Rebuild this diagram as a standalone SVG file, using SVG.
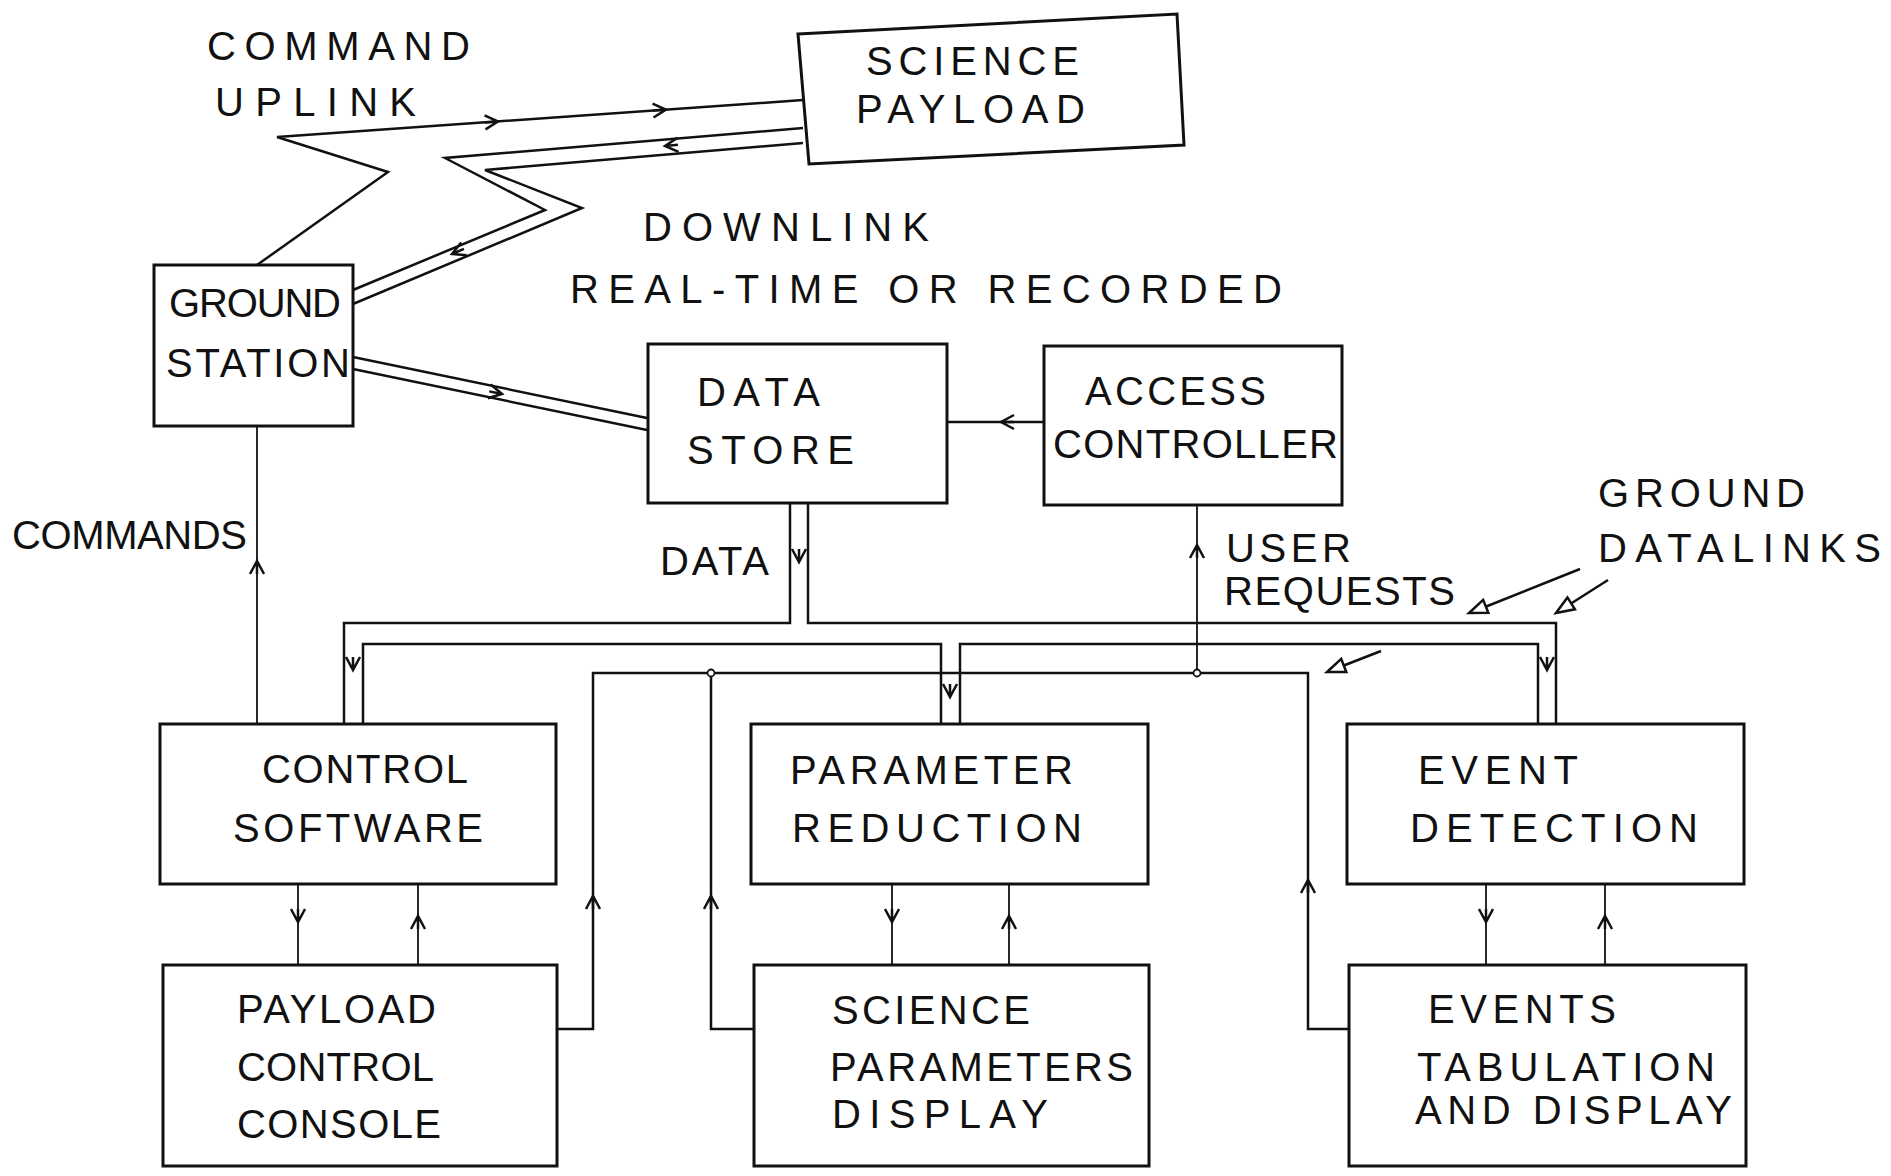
<svg xmlns="http://www.w3.org/2000/svg" xmlns:xlink="http://www.w3.org/1999/xlink" width="1891" height="1176" viewBox="0 0 1891 1176">
<style>
  .box{fill:none;stroke:#111;stroke-width:3}
  .ln{fill:none;stroke:#111;stroke-width:2.5;stroke-linejoin:miter}
  .thin{fill:none;stroke:#111;stroke-width:1.8}
  .t{font-family:"Liberation Sans",Arial,sans-serif;font-size:40px;fill:#111}
  .ah{fill:none;stroke:#111;stroke-width:2.5;stroke-linejoin:miter}
  .tri{fill:#fff;stroke:#111;stroke-width:2.5}
</style>
<defs>
  <path id="ah" d="M-13,-7 L0,0 L-13,7 M-13,0 L0,0"/>
  <path id="tri" d="M0,0 L-18,-7 L-18,7 Z"/>
</defs>
<rect width="1891" height="1176" fill="#fff"/>

<g id="connectors">
  <!-- command uplink -->
  <polyline class="ln" points="257,265 388,172 277,137 803,100"/>
  <use href="#ah" class="ah" transform="translate(498,121.5) rotate(-4)"/>
  <use href="#ah" class="ah" transform="translate(666,109.6) rotate(-4)"/>
  <!-- downlink pipe -->
  <polyline class="ln" points="803,128 445,158 545,210 353,290"/>
  <polyline class="ln" points="803,143 485,170 582,208 353,304"/>
  <use href="#ah" class="ah" transform="translate(665,146) rotate(175)"/>
  <use href="#ah" class="ah" transform="translate(452,254) rotate(157)"/>
  <!-- ground station to data store pipe -->
  <line class="ln" x1="353" y1="357" x2="647" y2="418"/>
  <line class="ln" x1="353" y1="369" x2="647" y2="430"/>
  <use href="#ah" class="ah" transform="translate(502,394) rotate(11.7)"/>
  <!-- access controller to data store -->
  <line class="ln" x1="947" y1="422" x2="1044" y2="422"/>
  <use href="#ah" class="ah" transform="translate(1001,422) rotate(180)"/>
  <!-- data distribution pipe -->
  <polyline class="ln" points="790,503 790,623 344,623 344,724"/>
  <polyline class="ln" points="808,503 808,623 1556,623 1556,724"/>
  <polyline class="ln" points="363,724 363,644 941,644 941,724"/>
  <polyline class="ln" points="1538,724 1538,644 960,644 960,724"/>
  <use href="#ah" class="ah" transform="translate(799,562) rotate(90)"/>
  <use href="#ah" class="ah" transform="translate(353,670) rotate(90)"/>
  <use href="#ah" class="ah" transform="translate(950,697) rotate(90)"/>
  <use href="#ah" class="ah" transform="translate(1547,670) rotate(90)"/>
  <!-- commands -->
  <line class="thin" x1="257" y1="426" x2="257" y2="724"/>
  <use href="#ah" class="ah" transform="translate(257,561) rotate(-90)"/>
  <!-- user requests bus -->
  <polyline class="ln" points="557,1029 593,1029 593,673 1308,673 1308,1029 1349,1029"/>
  <polyline class="ln" points="754,1029 711,1029 711,673"/>
  <line class="thin" x1="1197" y1="505" x2="1197" y2="673"/>
  <circle cx="711" cy="673" r="3.5" fill="#fff" stroke="#111" stroke-width="1.8"/>
  <circle cx="1197" cy="673" r="3.5" fill="#fff" stroke="#111" stroke-width="1.8"/>
  <use href="#ah" class="ah" transform="translate(1197,545) rotate(-90)"/>
  <use href="#ah" class="ah" transform="translate(593,896) rotate(-90)"/>
  <use href="#ah" class="ah" transform="translate(711,896) rotate(-90)"/>
  <use href="#ah" class="ah" transform="translate(1308,880) rotate(-90)"/>
  <!-- processing to display links -->
  <line class="thin" x1="298" y1="884" x2="298" y2="965"/>
  <line class="thin" x1="418" y1="884" x2="418" y2="965"/>
  <line class="thin" x1="892" y1="884" x2="892" y2="965"/>
  <line class="thin" x1="1009" y1="884" x2="1009" y2="965"/>
  <line class="thin" x1="1486" y1="884" x2="1486" y2="965"/>
  <line class="thin" x1="1605" y1="884" x2="1605" y2="965"/>
  <use href="#ah" class="ah" transform="translate(298,922) rotate(90)"/>
  <use href="#ah" class="ah" transform="translate(418,916) rotate(-90)"/>
  <use href="#ah" class="ah" transform="translate(892,922) rotate(90)"/>
  <use href="#ah" class="ah" transform="translate(1009,916) rotate(-90)"/>
  <use href="#ah" class="ah" transform="translate(1486,922) rotate(90)"/>
  <use href="#ah" class="ah" transform="translate(1605,916) rotate(-90)"/>
  <!-- ground datalinks pointers -->
  <line class="ln" x1="1580" y1="569" x2="1480" y2="609"/>
  <use href="#tri" class="tri" transform="translate(1469,613) rotate(158.4)"/>
  <line class="ln" x1="1608" y1="580" x2="1564" y2="608"/>
  <use href="#tri" class="tri" transform="translate(1556,613) rotate(147.6)"/>
  <line class="ln" x1="1381" y1="651" x2="1340" y2="667"/>
  <use href="#tri" class="tri" transform="translate(1327,672) rotate(158.7)"/>
</g>

<g id="science-payload">
  <polygon class="box" points="798,34 1177,14 1184,145 809,164"/>
  <text class="t" x="866" y="75" textLength="213" lengthAdjust="spacing">SCIENCE</text>
  <text class="t" x="856" y="123" textLength="229" lengthAdjust="spacing">PAYLOAD</text>
</g>
<g id="ground-station">
  <rect class="box" x="154" y="265" width="199" height="161"/>
  <text class="t" x="169" y="317" textLength="172" lengthAdjust="spacing">GROUND</text>
  <text class="t" x="166" y="377" textLength="184" lengthAdjust="spacing">STATION</text>
</g>
<g id="data-store">
  <rect class="box" x="648" y="344" width="299" height="159"/>
  <text class="t" x="697" y="406" textLength="123" lengthAdjust="spacing">DATA</text>
  <text class="t" x="687" y="464" textLength="167" lengthAdjust="spacing">STORE</text>
</g>
<g id="access-controller">
  <rect class="box" x="1044" y="346" width="298" height="159"/>
  <text class="t" x="1085" y="405" textLength="181" lengthAdjust="spacing">ACCESS</text>
  <text class="t" x="1053" y="458" textLength="285" lengthAdjust="spacing">CONTROLLER</text>
</g>
<g id="control-software">
  <rect class="box" x="160" y="724" width="396" height="160"/>
  <text class="t" x="262" y="783" textLength="206" lengthAdjust="spacing">CONTROL</text>
  <text class="t" x="233" y="842" textLength="250" lengthAdjust="spacing">SOFTWARE</text>
</g>
<g id="parameter-reduction">
  <rect class="box" x="751" y="724" width="397" height="160"/>
  <text class="t" x="790" y="784" textLength="283" lengthAdjust="spacing">PARAMETER</text>
  <text class="t" x="792" y="842" textLength="290" lengthAdjust="spacing">REDUCTION</text>
</g>
<g id="event-detection">
  <rect class="box" x="1347" y="724" width="397" height="160"/>
  <text class="t" x="1418" y="784" textLength="160" lengthAdjust="spacing">EVENT</text>
  <text class="t" x="1410" y="842" textLength="288" lengthAdjust="spacing">DETECTION</text>
</g>
<g id="payload-control-console">
  <rect class="box" x="163" y="965" width="394" height="201"/>
  <text class="t" x="237" y="1023" textLength="199" lengthAdjust="spacing">PAYLOAD</text>
  <text class="t" x="237" y="1081" textLength="197" lengthAdjust="spacing">CONTROL</text>
  <text class="t" x="237" y="1138" textLength="204" lengthAdjust="spacing">CONSOLE</text>
</g>
<g id="science-parameters-display">
  <rect class="box" x="754" y="965" width="395" height="201"/>
  <text class="t" x="832" y="1024" textLength="198" lengthAdjust="spacing">SCIENCE</text>
  <text class="t" x="830" y="1081" textLength="303" lengthAdjust="spacing">PARAMETERS</text>
  <text class="t" x="832" y="1128" textLength="216" lengthAdjust="spacing">DISPLAY</text>
</g>
<g id="events-tabulation-display">
  <rect class="box" x="1349" y="965" width="397" height="201"/>
  <text class="t" x="1428" y="1023" textLength="188" lengthAdjust="spacing">EVENTS</text>
  <text class="t" x="1417" y="1081" textLength="298" lengthAdjust="spacing">TABULATION</text>
  <text class="t" x="1415" y="1124" textLength="317" lengthAdjust="spacing">AND DISPLAY</text>
</g>

<g id="labels">
  <text class="t" x="207" y="60" textLength="263" lengthAdjust="spacing">COMMAND</text>
  <text class="t" x="215" y="116" textLength="201" lengthAdjust="spacing">UPLINK</text>
  <text class="t" x="643" y="241" textLength="286" lengthAdjust="spacing">DOWNLINK</text>
  <text class="t" x="570" y="303" textLength="712" lengthAdjust="spacing">REAL-TIME OR RECORDED</text>
  <text class="t" x="12" y="549" textLength="235" lengthAdjust="spacing">COMMANDS</text>
  <text class="t" x="660" y="575" textLength="109" lengthAdjust="spacing">DATA</text>
  <text class="t" x="1226" y="562" textLength="125" lengthAdjust="spacing">USER</text>
  <text class="t" x="1224" y="605" textLength="231" lengthAdjust="spacing">REQUESTS</text>
  <text class="t" x="1598" y="507" textLength="207" lengthAdjust="spacing">GROUND</text>
  <text class="t" x="1598" y="562" textLength="283" lengthAdjust="spacing">DATALINKS</text>
</g>
</svg>
